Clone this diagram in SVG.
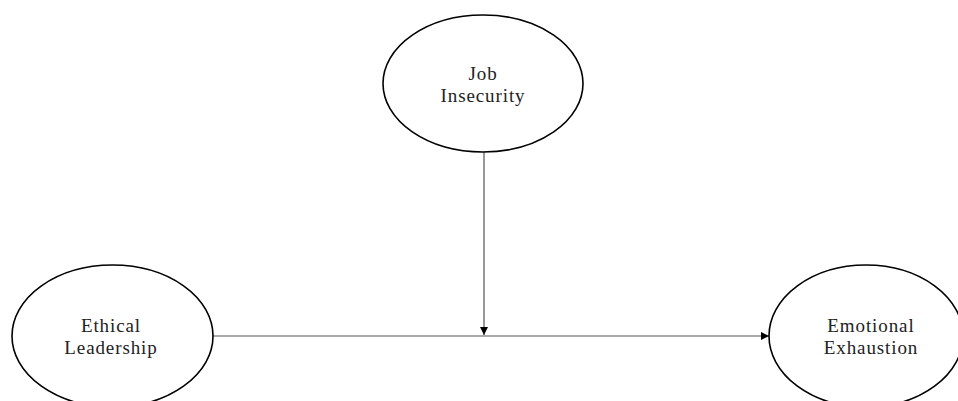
<svg xmlns="http://www.w3.org/2000/svg" width="958" height="401" viewBox="0 0 958 401">
<style>
.node ellipse{fill:#fff;stroke:#000;stroke-width:1.6}
.node text{font-family:"Liberation Serif","DejaVu Serif",serif;font-size:19px;letter-spacing:0.9px;fill:#222;text-anchor:middle}
.conn line{stroke:#555;stroke-width:1.2}
</style>
<defs>
<marker id="arr" viewBox="0 0 10 10" refX="10" refY="5" markerWidth="8" markerHeight="8" markerUnits="userSpaceOnUse" orient="auto">
<path d="M0,0 L10,5 L0,10 Z" fill="#000"/>
</marker>
</defs>
<rect width="958" height="401" fill="#fff"/>
<g class="conn">
<line x1="213" y1="336" x2="769" y2="336" marker-end="url(#arr)"/>
<line x1="484" y1="152" x2="484" y2="335" marker-end="url(#arr)"/>
</g>
<g id="job" class="node">
<ellipse cx="483" cy="83.5" rx="100" ry="68.5"/>
<text x="483" y="80">Job</text>
<text x="483" y="102">Insecurity</text>
</g>
<g id="ethical" class="node">
<ellipse cx="112.5" cy="336" rx="100.5" ry="71"/>
<text x="111" y="332">Ethical</text>
<text x="111" y="354">Leadership</text>
</g>
<g id="emotional" class="node">
<ellipse cx="866" cy="336" rx="97" ry="71"/>
<text x="871" y="332">Emotional</text>
<text x="871" y="354">Exhaustion</text>
</g>
</svg>
